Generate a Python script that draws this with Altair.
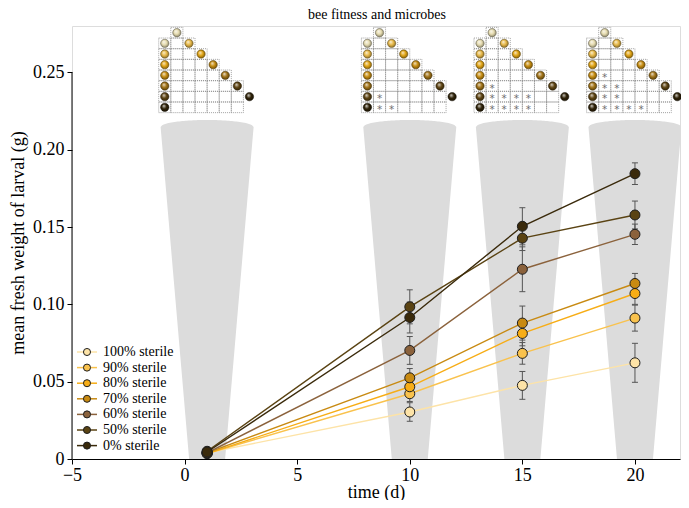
import altair as alt
import pandas as pd
import numpy as np

# ---------------- data ----------------
title_text = "bee fitness and microbes"
groups = ["100% sterile", "90% sterile", "80% sterile", "70% sterile",
          "60% sterile", "50% sterile", "0% sterile"]
line_colors = ["#fde3a7", "#f9c24d", "#f7ad16", "#c88a12", "#8b623c", "#5a4313", "#3a2a0b"]
ball_colors = ["#e6dcb0", "#e8b948", "#e2a515", "#c78d10", "#a17317", "#5e4412", "#2f2208"]
times = [1, 10, 15, 20]

mean_100 = [0.0040, 0.0304, 0.0476, 0.0622]
mean_90 = [0.0035, 0.0422, 0.0683, 0.0911]
mean_80 = [0.0035, 0.0467, 0.0812, 0.1070]
mean_70 = [0.0040, 0.0525, 0.0879, 0.1135]
mean_60 = [0.0040, 0.0702, 0.1227, 0.1453]
mean_50 = [0.0050, 0.0984, 0.1428, 0.1578]
mean_0 = [0.0045, 0.0915, 0.1505, 0.1845]

err_100 = [0.001, 0.006, 0.009, 0.0126]
err_90 = [0.001, 0.005, 0.007, 0.0084]
err_80 = [0.001, 0.005, 0.008, 0.0070]
err_70 = [0.001, 0.006, 0.011, 0.0065]
err_60 = [0.001, 0.009, 0.0145, 0.0066]
err_50 = [0.001, 0.011, 0.008, 0.0090]
err_0 = [0.001, 0.010, 0.012, 0.0070]

# significant pairs (row group index, column group index) per time point
sig_1 = []
sig_10 = [(5, 0), (6, 0), (6, 1)]
sig_15 = [(4, 0), (5, 0), (5, 1), (5, 2), (5, 3), (6, 0), (6, 1), (6, 2), (6, 3)]
sig_20 = [(3, 0), (4, 0), (4, 1), (5, 0), (5, 1), (6, 0), (6, 1), (6, 2), (6, 3)]

x_ticks = [-5, 0, 5, 10, 15, 20]
y_ticks = [0, 0.05, 0.10, 0.15, 0.20, 0.25]

# ---------------- layout ----------------
X_DOMAIN = [-5, 22]
Y_DOMAIN = [0, 0.28]
W, H = 608, 433
UX = (X_DOMAIN[1] - X_DOMAIN[0]) / W   # data units per pixel (x)
UY = (Y_DOMAIN[1] - Y_DOMAIN[0]) / H   # data units per pixel (y)
SERIF = "Liberation Serif"

means = [mean_100, mean_90, mean_80, mean_70, mean_60, mean_50, mean_0]
errs = [err_100, err_90, err_80, err_70, err_60, err_50, err_0]
sigs = [sig_1, sig_10, sig_15, sig_20]

rows = []
for gi, g in enumerate(groups):
    for ti, t in enumerate(times):
        m, e = means[gi][ti], errs[gi][ti]
        rows.append({"group": g, "gi": gi, "time": t, "mean": m,
                     "low": m - e, "high": m + e,
                     "xl": t - 3 * UX, "xr": t + 3 * UX})
df = pd.DataFrame(rows)

xs = alt.Scale(domain=X_DOMAIN, nice=False, zero=False)
ys = alt.Scale(domain=Y_DOMAIN, nice=False, zero=False)
x_axis = alt.Axis(values=x_ticks, title="time (d)", grid=False, labelFlush=False,
                  labelFont=SERIF, labelFontSize=18, titleFont=SERIF, titleFontSize=18,
                  titleFontWeight="normal", tickSize=5, labelPadding=2, titlePadding=-1,
                  domainColor="black", tickColor="black", labelColor="black",
                  titleColor="black", labelOverlap=False)
y_axis = alt.Axis(values=y_ticks, title="mean fresh weight of larval (g)", grid=False,
                  domain=False, labelFlush=False,
                  labelExpr="datum.value == 0 ? '0' : format(datum.value, '.2f')",
                  labelFont=SERIF, labelFontSize=18, titleFont=SERIF, titleFontSize=18,
                  titleFontWeight="normal", tickSize=5, labelPadding=3, titlePadding=5,
                  tickColor="black", labelColor="black", titleColor="black",
                  labelOverlap=False)


def X(f):
    return alt.X(f, type="quantitative", scale=xs, axis=x_axis)


def Y(f):
    return alt.Y(f, type="quantitative", scale=ys, axis=y_axis)


color_scale = alt.Scale(domain=groups, range=line_colors)

# ---------------- funnels (decorative cones behind each time point) ----------------
f_rows = []
bot_hw, top_hw = 18 * UX, 46.5 * UX
top_y = 0.2147
dome = 7.0 * UY
for t in times:
    dxs = sorted(set(list(np.linspace(-top_hw, top_hw, 61)) + [-bot_hw, bot_hw]))
    for dx in dxs:
        lo = max(0.0, top_y * (abs(dx) - bot_hw) / (top_hw - bot_hw))
        hi = top_y + dome * np.sqrt(max(0.0, 1 - (dx / top_hw) ** 2))
        f_rows.append({"t": t, "x": t + dx, "lo": lo, "hi": hi})
fdf = pd.DataFrame(f_rows)
funnels = alt.Chart(fdf).mark_area(color="#dcdcdc", opacity=1).encode(
    x=X("x"), y=Y("lo"), y2="hi", detail="t:N")

# ---------------- series ----------------
lines = alt.Chart(df).mark_line(strokeWidth=1.4).encode(
    x=X("time"), y=Y("mean"),
    color=alt.Color("group:N", scale=color_scale, legend=None),
    detail="group:N", order="time:Q")
ebar = alt.Chart(df).mark_rule(color="#555555", strokeWidth=1).encode(
    x=X("time"), y=Y("low"), y2="high")
cap_lo = alt.Chart(df).mark_rule(color="#555555", strokeWidth=1).encode(
    x=X("xl"), x2="xr", y=Y("low"))
cap_hi = alt.Chart(df).mark_rule(color="#555555", strokeWidth=1).encode(
    x=X("xl"), x2="xr", y=Y("high"))
points = alt.Chart(df).mark_point(filled=True, size=100, stroke="#1e1e1e",
                                  strokeWidth=1, opacity=1).encode(
    x=X("time"), y=Y("mean"),
    fill=alt.Fill("group:N", scale=color_scale, legend=None),
    order="gi:Q")

# y axis line (only up to 0.25)
yline = alt.Chart(pd.DataFrame({"a": [0]})).mark_rule(color="black", strokeWidth=1).encode(
    x=alt.datum(X_DOMAIN[0], scale=xs), y=alt.datum(0, scale=ys), y2=alt.datum(y_ticks[-1]))

# ---------------- insets ----------------
COLW = 12.1 * UX
ROWH = 10.66 * UY
ROW1 = Y_DOMAIN[1] - 6.7 * UY


def cx(t, c):
    return t + (c - 4.5) * COLW


def cy(r):
    return ROW1 - (r - 1) * ROWH


cells, stars, balls = [], [], []
for ti, t in enumerate(times):
    for r in range(1, 9):
        cols = [2] if r == 1 else list(range(1, min(r + 1, 7) + 1))
        for c in cols:
            cells.append({"x": cx(t, c) - COLW / 2, "x2": cx(t, c) + COLW / 2,
                          "y": cy(r) - ROWH / 2, "y2": cy(r) + ROWH / 2})
    for (a, b) in sigs[ti]:
        stars.append({"x": cx(t, b + 2), "y": cy(a + 2), "s": "*"})
    for gi in range(len(groups)):
        balls.append({"gi": gi, "x": cx(t, 1), "y": cy(gi + 2)})
        balls.append({"gi": gi, "x": cx(t, gi + 2), "y": cy(gi + 1)})
cdf = pd.DataFrame(cells)
sdf = pd.DataFrame(stars)
bdf = pd.DataFrame(balls)

grid = alt.Chart(cdf).mark_rect(fill="white", fillOpacity=0, stroke="#8a8a8a",
                                strokeWidth=0.8, strokeDash=[1, 1]).encode(
    x=X("x"), x2="x2", y=Y("y"), y2="y2")
star_layer = alt.Chart(sdf).mark_text(font="DejaVu Sans", fontSize=10.5, color="#6f6f6f",
                                      baseline="middle", dy=2.5).encode(
    x=X("x"), y=Y("y"), text="s:N")


def mix(h, other, f):
    a = np.array([int(h[i:i + 2], 16) for i in (1, 3, 5)], dtype=float)
    b = np.array([int(other[i:i + 2], 16) for i in (1, 3, 5)], dtype=float)
    c = a * (1 - f) + b * f
    return "#" + "".join(f"{int(round(v)):02x}" for v in c)


ball_layers = []
for gi, bc in enumerate(ball_colors):
    grad = {"gradient": "radial", "x1": 0.38, "y1": 0.32, "r1": 0.02,
            "x2": 0.5, "y2": 0.5, "r2": 0.62,
            "stops": [{"offset": 0.0, "color": mix(bc, "#ffffff", 0.75)},
                      {"offset": 0.45, "color": bc},
                      {"offset": 1.0, "color": mix(bc, "#000000", 0.55)}]}
    ball_layers.append(
        alt.Chart(bdf[bdf.gi == gi]).mark_point(filled=True, size=70, fill=grad,
                                                 stroke=mix(bc, "#000000", 0.6),
                                                 strokeWidth=0.5, opacity=1).encode(
            x=X("x"), y=Y("y")))

# ---------------- legend ----------------
LEG_Y0 = (459 - 352) * UY
LEG_DY = 15.6 * UY
ldf = pd.DataFrame({"group": groups, "gi": range(len(groups))})
ldf["y"] = LEG_Y0 - ldf["gi"] * LEG_DY
ldf["x1"] = X_DOMAIN[0] + 5 * UX
ldf["x2"] = X_DOMAIN[0] + 25 * UX
ldf["xc"] = X_DOMAIN[0] + 15 * UX
ldf["xt"] = X_DOMAIN[0] + 31 * UX
leg_line = alt.Chart(ldf).mark_rule(strokeWidth=1.5).encode(
    x=X("x1"), x2="x2", y=Y("y"),
    color=alt.Color("group:N", scale=color_scale, legend=None))
leg_pt = alt.Chart(ldf).mark_point(filled=True, size=50, stroke="#1e1e1e",
                                   strokeWidth=1, opacity=1).encode(
    x=X("xc"), y=Y("y"), fill=alt.Fill("group:N", scale=color_scale, legend=None))
leg_txt = alt.Chart(ldf).mark_text(font=SERIF, fontSize=14, align="left",
                                   baseline="middle", color="black").encode(
    x=X("xt"), y=Y("y"), text="group:N")

# ---------------- title ----------------
title = alt.Chart(pd.DataFrame({"t": [title_text]})).mark_text(
    font=SERIF, fontSize=14, align="center", baseline="top", color="black").encode(
    x=alt.value(W / 2 + 1), y=alt.value(-18), text="t:N")

chart = alt.layer(
    funnels, lines, ebar, cap_lo, cap_hi, points, yline, grid, star_layer,
    *ball_layers, leg_line, leg_pt, leg_txt, title
).properties(
    width=W, height=H,
    padding={"left": 64, "top": 18, "right": 1, "bottom": 41},
    autosize=alt.AutoSizeParams(type="none"),
).configure_view(stroke=None).configure(background="white")

chart.save("out.html", embed_options={"renderer": "svg", "actions": False})
